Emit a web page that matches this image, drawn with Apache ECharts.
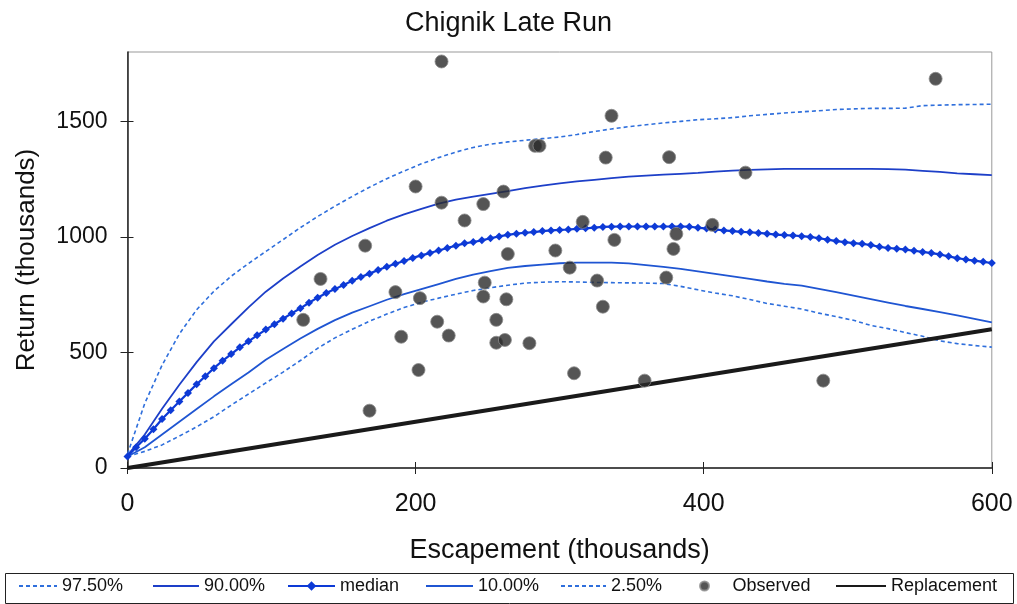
<!DOCTYPE html>
<html>
<head>
<meta charset="utf-8">
<script src="https://cdn.jsdelivr.net/npm/echarts@6/dist/echarts.min.js"></script>
<style>html,body{margin:0;padding:0;background:#fff}#c{width:1017px;height:604px}</style>
</head>
<body>
<div id="c"></div>
<script>
// ---- data (thousands) ----
const titleText = 'Chignik Late Run';
const xName = 'Escapement (thousands)';
const yName = 'Return (thousands)';
const xTicks = [0, 200, 400, 600];
const yTicks = [0, 500, 1000, 1500];

// escapement grid for the median curve
const sMedian = [0,6,12,18,24,30,36,42,48,54,60,66,72,78,84,90,96,102,108,114,120,126,132,138,144,150,156,162,168,174,180,186,192,198,204,210,216,222,228,234,240,246,252,258,264,270,276,282,288,294,300,306,312,318,324,330,336,342,348,354,360,366,372,378,384,390,396,402,408,414,420,426,432,438,444,450,456,462,468,474,480,486,492,498,504,510,516,522,528,534,540,546,552,558,564,570,576,582,588,594,600];
const median = [50,90,127,168,212,250,288,325,362,397,432,464,493,522,548,574,599,622,646,669,691,715,737,757,774,792,810,826,841,857,871,884,896,909,920,930,941,952,962,972,978,985,994,1002,1009,1014,1018,1021,1025,1028,1030,1032,1035,1037,1040,1043,1044,1045,1045,1045,1045,1045,1045,1045,1045,1044,1040,1036,1032,1028,1025,1022,1020,1017,1014,1010,1008,1006,1003,1000,994,988,982,977,973,970,965,957,952,949,945,940,935,930,924,916,908,902,897,892,887];

// escapement grid for the percentile curves
const sBand = [0,12,24,36,48,60,72,84,96,108,120,132,144,156,168,180,192,204,216,228,240,252,264,276,288,300,312,324,336,348,360,372,384,396,408,420,432,444,456,468,480,492,504,516,528,540,552,564,576,588,600];
const p975 = [60,280,445,580,685,765,830,885,937,988,1040,1088,1133,1175,1215,1252,1285,1316,1343,1367,1387,1401,1411,1418,1425,1432,1443,1456,1467,1477,1485,1493,1500,1507,1511,1516,1524,1530,1536,1541,1546,1551,1554,1556,1556,1557,1568,1570,1572,1573,1574];
const p90 = [55,145,256,360,458,548,622,695,763,820,872,922,966,1004,1038,1070,1097,1121,1144,1161,1174,1186,1198,1211,1222,1232,1240,1247,1254,1261,1265,1269,1273,1277,1282,1287,1290,1292,1294,1294,1294,1294,1294,1294,1293,1291,1286,1281,1275,1271,1267];
const p10 = [50,90,145,200,255,310,362,413,468,515,560,602,640,672,700,728,752,774,796,818,837,852,866,874,880,886,889,889,889,885,878,870,862,851,840,829,818,807,797,789,775,761,746,731,716,701,688,674,660,645,630];
const p025 = [50,72,100,138,178,222,272,320,368,415,465,518,563,600,635,666,694,717,735,752,768,780,791,800,804,806,805,803,802,801,800,798,786,771,757,745,729,712,700,688,670,655,639,617,603,586,570,550,538,530,523];

// observed brood years
const obsEsc = [218,561,336,283,286,332,376,200,429,218,247,261,234,316,165,338,406,381,379,264,297,307,326,374,134,122,186,203,248,247,263,330,215,256,190,223,256,262,279,202,168,310,359,483];
const obsRet = [1759,1684,1524,1394,1394,1343,1345,1218,1278,1148,1142,1196,1071,1065,962,987,1052,1013,948,926,941,867,811,824,818,641,761,735,802,742,730,698,633,641,568,573,542,554,540,424,248,410,378,378];

// replacement line
const replEsc = [0, 600];
const replRet = [0, 600];

const names = ['97.50%', '90.00%', 'median', '10.00%', '2.50%', 'Observed', 'Replacement'];

// ---- build ----
const zip = (xs, ys) => xs.map((x, i) => [x, ys[i]]);
const FONT = 'Liberation Sans, Arial, sans-serif';
const chart = echarts.init(document.getElementById('c'), null, {renderer: 'canvas'});

const legendLayout = [
  {left: 18, w: 38, hideSym: true},
  {left: 152, w: 46, hideSym: true},
  {left: 287, w: 47, hideSym: false},
  {left: 425, w: 47, hideSym: true},
  {left: 560, w: 45, hideSym: true},
  {left: 699, w: 34, hideSym: false, h: 9, pad: 6},
  {left: 835, w: 50, hideSym: true}
];
const legends = names.map((n, i) => {
  const L = legendLayout[i];
  const lg = {
    data: [n], left: L.left, top: 577, padding: 0,
    itemWidth: L.w, itemHeight: L.h || 12, itemGap: 0,
    textStyle: {fontFamily: FONT, fontSize: 18, color: '#111', padding: [0, 0, 0, L.pad || 0]}
  };
  if (L.hideSym) lg.itemStyle = {opacity: 0};
  return lg;
});

const tickOnly = (type, inside) => ({
  type: 'value', min: type === 'x' ? 0 : 0, max: type === 'x' ? 600 : 1800,
  position: type === 'x' ? 'bottom' : 'left',
  axisLine: {show: false},
  axisTick: {show: true, inside: inside, length: 6, customValues: type === 'x' ? xTicks : yTicks,
             lineStyle: {color: '#222'}},
  axisLabel: {show: false}, splitLine: {show: false}
});

chart.setOption({
  backgroundColor: '#fff',
  animation: false,
  title: {
    text: titleText, left: 'center', top: 5,
    textStyle: {fontFamily: FONT, fontSize: 27, fontWeight: 'normal', color: '#111'}
  },
  legend: legends,
  graphic: [{
    type: 'rect', left: 3, top: 571, shape: {width: 1008, height: 30},
    style: {fill: 'none', stroke: '#222', lineWidth: 1}, silent: true
  }],
  grid: {
    left: 127.5, right: 25.2, top: 52, bottom: 136,
    show: true, borderColor: '#999', borderWidth: 1, backgroundColor: 'transparent'
  },
  xAxis: [{
    type: 'value', min: 0, max: 600, interval: 200,
    name: xName, nameLocation: 'middle', nameGap: 69,
    nameTextStyle: {fontFamily: FONT, fontSize: 27, color: '#111'},
    axisLine: {show: true, lineStyle: {color: '#222', width: 1.5}},
    axisTick: {show: true, length: 6, customValues: xTicks, lineStyle: {color: '#222'}},
    axisLabel: {fontFamily: FONT, fontSize: 25, color: '#111', margin: 24, customValues: xTicks,
                formatter: v => String(v)},
    splitLine: {show: false}
  }, tickOnly('x', true)],
  yAxis: [{
    type: 'value', min: 0, max: 1800,
    name: yName, nameLocation: 'middle', nameGap: 88,
    nameTextStyle: {fontFamily: FONT, fontSize: 26, color: '#111'},
    axisLine: {show: true, lineStyle: {color: '#222', width: 1.5}},
    axisTick: {show: true, length: 7, customValues: yTicks, lineStyle: {color: '#222'}},
    axisLabel: {fontFamily: FONT, fontSize: 23, color: '#111', margin: 20, customValues: yTicks,
                formatter: v => String(v)},
    splitLine: {show: false}
  }, tickOnly('y', true)],
  series: [
    {name: names[0], type: 'line', data: zip(sBand, p975), showSymbol: false, symbol: 'none',
     lineStyle: {color: '#2f6fdc', width: 1.6, type: [4, 3]}, itemStyle: {color: '#2f6fdc'}, z: 2},
    {name: names[1], type: 'line', data: zip(sBand, p90), showSymbol: false, symbol: 'none',
     lineStyle: {color: '#1d3fc8', width: 1.8}, itemStyle: {color: '#1d3fc8'}, z: 2},
    {name: names[2], type: 'line', data: zip(sMedian, median), symbol: 'diamond', symbolSize: 8,
     lineStyle: {color: '#0d3ad6', width: 2.2}, itemStyle: {color: '#0d3ad6'}, z: 3},
    {name: names[3], type: 'line', data: zip(sBand, p10), showSymbol: false, symbol: 'none',
     lineStyle: {color: '#1f55d2', width: 1.8}, itemStyle: {color: '#1f55d2'}, z: 2},
    {name: names[4], type: 'line', data: zip(sBand, p025), showSymbol: false, symbol: 'none',
     lineStyle: {color: '#2f6fdc', width: 1.6, type: [4, 3]}, itemStyle: {color: '#2f6fdc'}, z: 2},
    {name: names[5], type: 'scatter', data: zip(obsEsc, obsRet), symbol: 'circle', symbolSize: 13,
     itemStyle: {color: '#2a2a2a', borderColor: '#8a8a8a', borderWidth: 1}, z: 5},
    {name: names[6], type: 'line', data: zip(replEsc, replRet), showSymbol: false, symbol: 'none',
     lineStyle: {color: '#1a1a1a', width: 4}, itemStyle: {color: '#1a1a1a'}, z: 4}
  ]
});
</script>
</body>
</html>
